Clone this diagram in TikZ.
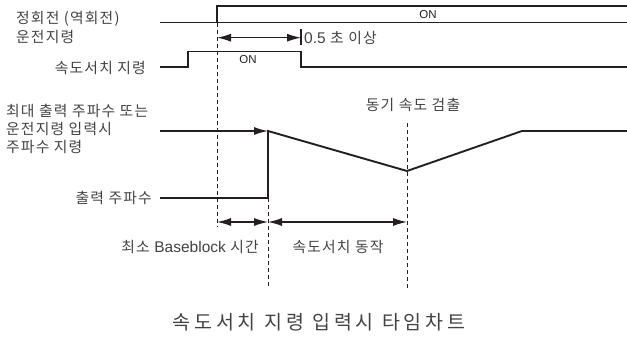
\documentclass[tikz,border=0pt]{standalone}
\usepackage{fontspec}
\setmainfont{Noto Sans CJK KR}[LetterSpace=8]
\newfontfamily\capfont{Noto Sans CJK KR}[LetterSpace=20]
\newfontfamily\lat{Liberation Sans}
\usetikzlibrary{arrows.meta}
\definecolor{ink}{HTML}{231F20}
\begin{document}
\begin{tikzpicture}[x=1pt,y=-1pt,
  wave/.style={draw=ink,line width=1.9pt},
  thin/.style={draw=ink,line width=1.2pt},
  dashline/.style={draw=ink,line width=1pt,dash pattern=on 4pt off 3pt},
  dbl/.style={draw=ink,line width=1.2pt,{Latex[length=14pt,width=8pt]}-{Latex[length=14pt,width=8pt]}},
  lbl/.style={text=ink!85,font=\fontsize{14.8}{17}\selectfont,inner sep=0pt},
  small/.style={text=ink,font=\lat\fontsize{11.5}{13}\selectfont,inner sep=0pt}]
\useasboundingbox (0,0) rectangle (627,340);
% coordinates
\coordinate (t0) at (160,22.5);
\coordinate (t1) at (217,22.5);
\coordinate (t2) at (217,6);
\coordinate (t3) at (627,6);
\coordinate (t4) at (627,22.5);
\coordinate (s0) at (160,67);
\coordinate (s1) at (188,67);
\coordinate (s2) at (188,51.5);
\coordinate (s3) at (301,51.5);
\coordinate (s4) at (301,67);
\coordinate (s5) at (627,67);
\coordinate (f0) at (160,131);
\coordinate (f1) at (268,131);
\coordinate (o0) at (160,198);
\coordinate (o1) at (268,198);
\coordinate (dip) at (407,171);
\coordinate (r1) at (522,131);
\coordinate (r2) at (627,131);
\coordinate (a0) at (217,37.7);
\coordinate (a1) at (301,37.7);
\coordinate (b0) at (217,222);
\coordinate (b1) at (268,222);
\coordinate (b2) at (407,222);
% waveforms
\draw[wave] (t0) -- (t4);
\draw[wave] (t1) -- (t2) -- (t3);
\draw[wave] (s0) -- (s1) -- (s2) -- (s3) -- (s4) -- (s5);
\draw[thin,-{Latex[length=14pt,width=8pt]}] (f0) -- (f1);
\draw[wave] (o0) -- (o1) -- (f1) -- (dip) -- (r1) -- (r2);
% dashed
\draw[dashline] (t1) -- (217,226);
\draw[dashline] (o1) -- (268,288);
\draw[dashline] (407,123) -- (407,288);
% arrows
\draw[dbl] (a0) -- (a1);
\draw[draw=ink,line width=1.5pt] (301,29) -- (301,45);
\draw[dbl] (b0) -- (b1);
\draw[dbl] (b1) -- (b2);
% texts
\node[small] (on1) at (428,15) {ON};
\node[small] (on2) at (248,60) {ON};
\node[lbl,anchor=west] (half) at (304,38) {{\lat\fontsize{15.5}{17}\selectfont 0.5} 초 이상};
\node[lbl,anchor=west] (l1) at (16,19) {정회전 (역회전)};
\node[lbl,anchor=west] (l2) at (16,37) {운전지령};
\node[lbl,anchor=east] (l3) at (146,68) {속도서치 지령};
\node[lbl,anchor=west] (l4) at (6,111) {최대 출력 주파수 또는};
\node[lbl,anchor=west] (l5) at (6,129) {운전지령 입력시};
\node[lbl,anchor=west] (l6) at (6,146.5) {주파수 지령};
\node[lbl,anchor=east] (l7) at (152,197.5) {출력 주파수};
\node[lbl] (sync) at (413,105) {동기 속도 검출};
\node[lbl,anchor=east] (bb) at (259,247) {최소 {\lat\fontsize{15.5}{17}\selectfont Baseblock} 시간};
\node[lbl] (act) at (338,247) {속도서치 동작};
\node[text=ink!85,font=\capfont\fontsize{19.5}{22}\selectfont,inner sep=0pt] (cap) at (319,322) {속도서치 지령 입력시 타임차트};
\end{tikzpicture}
\end{document}
